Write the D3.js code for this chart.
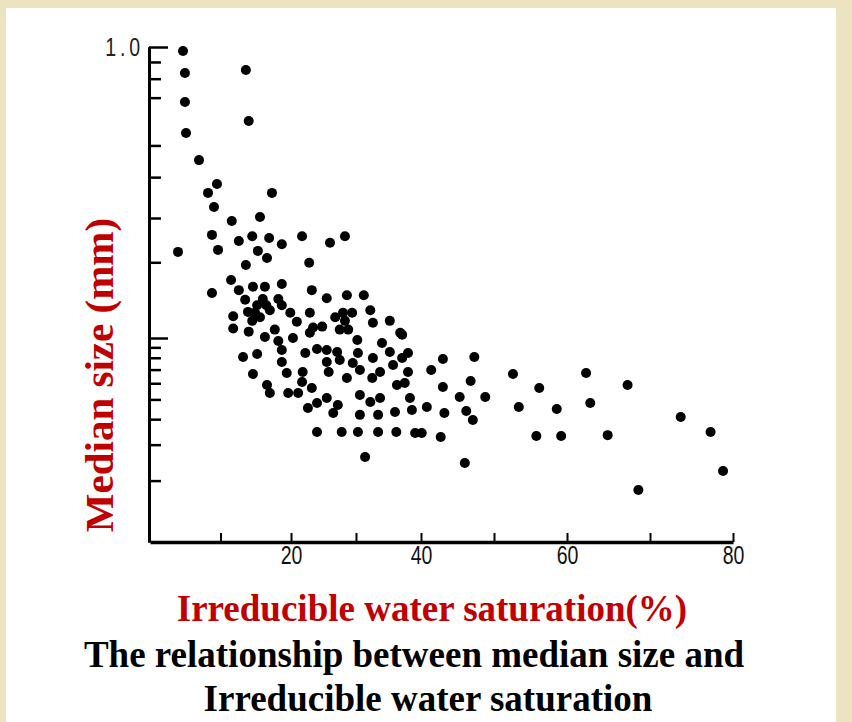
<!DOCTYPE html>
<html><head><meta charset="utf-8">
<script src="https://cdn.jsdelivr.net/npm/d3@7"></script>
<style>html,body{margin:0;padding:0;background:#ece3c0;} svg{display:block}</style>
</head><body>
<svg id="chart" width="852" height="722"></svg>
<script>
// Irreducible water saturation (%)
const saturation = [4.68,4.96,4.96,5.11,6.95,9.50,8.23,9.08,13.6,14.0,17.3,11.6,15.6,8.79,9.65,3.97,12.6,14.5,16.9,18.7,21.7,15.3,16.6,13.6,22.8,26.0,28.3,8.79,11.5,12.6,14.6,16.3,18.7,23.2,18.2,13.9,15.2,16.0,15.6,14.5,17.0,18.7,19.9,20.9,11.8,11.8,14.0,16.3,17.7,18.2,20.3,18.7,22.9,22.9,13.2,15.2,22.2,24.0,25.5,28.6,31.2,32.2,35.2,36.8,26.8,28.3,29.4,27.5,32.6,24.8,30.2,34.0,25.5,27.1,30.3,35.2,38.0,32.6,25.5,27.5,29.5,35.7,28.6,32.5,36.3,38.0,25.5,27.2,30.6,32.2,33.7,26.5,30.6,33.4,36.0,38.3,38.6,40.8,27.8,30.3,33.4,36.2,39.1,40.1,24.0,14.6,16.6,17.0,18.7,19.4,21.8,21.7,19.6,21.1,23.2,22.6,24.0,31.4,37.1,37.1,43.0,47.3,41.4,37.5,43.0,46.8,45.3,48.8,43.2,46.2,47.1,42.7,46.0,52.6,53.4,56.2,58.6,55.8,59.2,62.3,62.8,64.9,67.3,68.6,73.7,77.3,78.8,33.7,30.6,23.4,25.8,16.5,14.9,13.5,28.0,28.8];
// Median size (mm)
const medianSize = [0.972,0.833,0.679,0.546,0.451,0.381,0.358,0.324,0.851,0.594,0.358,0.292,0.302,0.257,0.224,0.220,0.243,0.254,0.250,0.236,0.254,0.222,0.208,0.195,0.199,0.239,0.254,0.151,0.170,0.155,0.160,0.160,0.164,0.155,0.143,0.127,0.135,0.143,0.121,0.117,0.129,0.135,0.126,0.116,0.122,0.109,0.106,0.101,0.108,0.0967,0.100,0.0873,0.126,0.105,0.0807,0.0835,0.0844,0.0884,0.144,0.148,0.148,0.129,0.117,0.105,0.121,0.117,0.126,0.108,0.115,0.111,0.0978,0.0945,0.0873,0.0854,0.0844,0.0854,0.0844,0.0798,0.0763,0.0780,0.0754,0.0737,0.0637,0.0637,0.0588,0.0681,0.0508,0.0469,0.0526,0.0486,0.0508,0.0429,0.0420,0.0420,0.0434,0.0508,0.0444,0.0459,0.0346,0.0346,0.0346,0.0346,0.0342,0.0342,0.0346,0.0666,0.0588,0.0538,0.0763,0.0674,0.0681,0.0609,0.0538,0.0538,0.0569,0.0454,0.0480,0.0261,0.103,0.0798,0.0789,0.0807,0.0697,0.0602,0.0575,0.0615,0.0514,0.0514,0.0429,0.0439,0.0396,0.0327,0.0244,0.0666,0.0459,0.0569,0.0449,0.0331,0.0331,0.0674,0.0480,0.0334,0.0588,0.0180,0.0410,0.0346,0.0223,0.0681,0.0697,0.110,0.0681,0.135,0.126,0.142,0.126,0.108];

const xTickValues = [10,20,30,40,50,60,70,80];
const xTickLabels = ["","20","","40","","60","","80"];
const yMinorTicks = [0.02,0.03,0.04,0.05,0.06,0.07,0.08,0.09,0.2,0.3,0.4,0.5,0.7,0.8,0.9];
const yMajorTicks = [0.1,1.0];
const yTickLabels = ["","1.0"];
const yTitle = "Median size (mm)";
const xTitle = "Irreducible water saturation(%)";
const captionLines = ["The relationship between median size and","Irreducible water saturation"];

const svg = d3.select("#chart");
// white panel
svg.append("rect").attr("x",6).attr("y",8).attr("width",830).attr("height",714).attr("fill","#ffffff");

// scales (scanned figure: piecewise to follow printed tick positions)
const x = d3.scaleLinear().domain([0,20,40,60,80]).range([150,291,421,567,733]);
const y = d3.scaleLog().domain([0.01,0.1,0.3,1]).range([542,338,218,47]);

const ink = "#000";
const narrow = "'Liberation Sans', Arial, sans-serif";

// y axis
const gy1 = svg.append("g").attr("transform","translate(149,0)")
  .call(d3.axisRight(y).tickValues(yMinorTicks).tickSize(12).tickSizeOuter(0).tickFormat(""));
const gy2 = svg.append("g").attr("transform","translate(149,0)")
  .call(d3.axisRight(y).tickValues(yMajorTicks).tickSize(19).tickSizeOuter(0).tickFormat(""));
[gy1,gy2].forEach(g=>{
  g.select(".domain").attr("stroke",ink).attr("stroke-width",3);
  g.selectAll(".tick line").attr("stroke",ink).attr("stroke-width",2.5);
});
yMajorTicks.forEach((v,i)=>{
  if(!yTickLabels[i]) return;
  svg.append("text")
    .attr("transform",`translate(144,${y(v)}) scale(0.78,1)`)
    .attr("text-anchor","end").attr("dy","0.36em")
    .attr("font-family",narrow).attr("font-size",25).attr("letter-spacing",5)
    .attr("fill","#222").text(yTickLabels[i]);
});

// x axis
const gx = svg.append("g").attr("transform","translate(0,542)")
  .call(d3.axisBottom(x).tickValues(xTickValues).tickSize(-9).tickSizeOuter(0).tickPadding(4)
    .tickFormat((d,i)=>xTickLabels[i]));
gx.select(".domain").attr("stroke",ink).attr("stroke-width",3.5);
gx.selectAll(".tick line").attr("stroke",ink).attr("stroke-width",2);
gx.selectAll(".tick text").attr("font-family",narrow).attr("font-size",26)
  .attr("fill","#111").attr("transform","scale(0.75,1)");

// points
svg.append("g").selectAll("circle").data(saturation.map((s,i)=>[s,medianSize[i]]))
  .join("circle").attr("cx",d=>x(d[0])).attr("cy",d=>y(d[1])).attr("r",5).attr("fill","#000");

// titles
const serif = "'Liberation Serif','Times New Roman',serif";
svg.append("text").attr("transform","translate(113,375) rotate(-90)")
  .attr("text-anchor","middle").attr("font-family",serif)
  .attr("font-weight","bold").attr("font-size",41).attr("fill","#c00000").text(yTitle);
svg.append("text").attr("x",432).attr("y",621)
  .attr("text-anchor","middle").attr("font-family",serif)
  .attr("font-weight","bold").attr("font-size",37).attr("fill","#c00000").text(xTitle);
captionLines.forEach((t,i)=>{
  svg.append("text").attr("x",i===0?414:428).attr("y",667+i*44)
    .attr("text-anchor","middle").attr("font-family",serif)
    .attr("font-weight","bold").attr("font-size",37).attr("fill","#000").text(t);
});
</script>
</body></html>
